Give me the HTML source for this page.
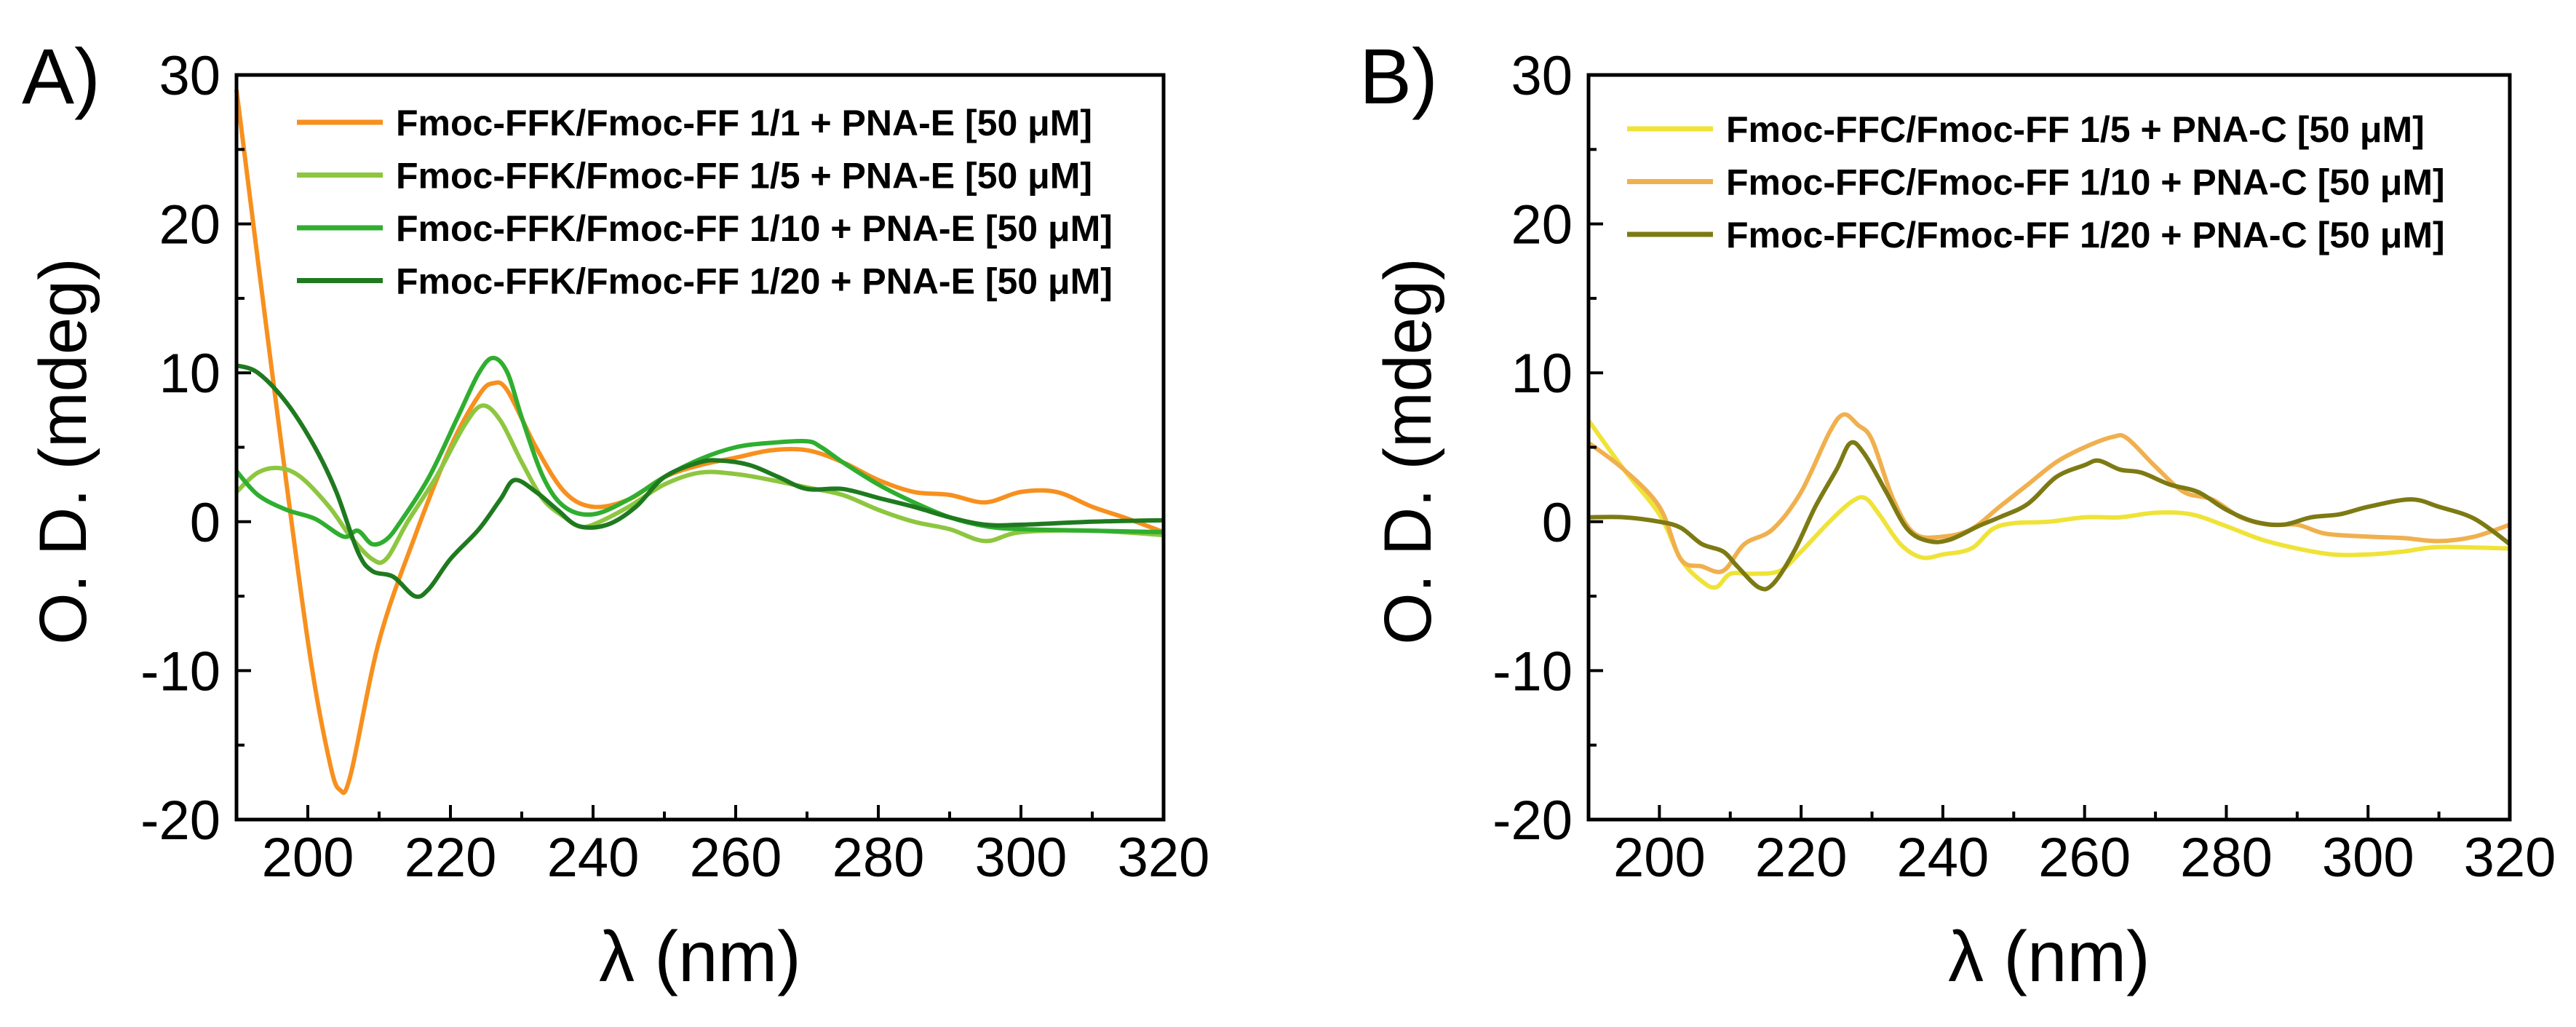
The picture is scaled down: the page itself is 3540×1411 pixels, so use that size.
<!DOCTYPE html>
<html><head><meta charset="utf-8"><style>
html,body{margin:0;padding:0;background:#fff;}
svg{display:block;font-family:"Liberation Sans",sans-serif;}
</style></head><body>
<svg id="fig" width="3540" height="1411" viewBox="0 0 3540 1411" xmlns="http://www.w3.org/2000/svg">
<rect width="3540" height="1411" fill="#fff"/>
</svg>
<script>
const xTicks=[200,220,240,260,280,300,320];
const yTicks=[-20,-10,0,10,20,30];
const aNames=["Fmoc-FFK/Fmoc-FF 1/1 + PNA-E [50 μM]","Fmoc-FFK/Fmoc-FF 1/5 + PNA-E [50 μM]","Fmoc-FFK/Fmoc-FF 1/10 + PNA-E [50 μM]","Fmoc-FFK/Fmoc-FF 1/20 + PNA-E [50 μM]"];
const bNames=["Fmoc-FFC/Fmoc-FF 1/5 + PNA-C [50 μM]","Fmoc-FFC/Fmoc-FF 1/10 + PNA-C [50 μM]","Fmoc-FFC/Fmoc-FF 1/20 + PNA-C [50 μM]"];
const a11X=[190,195,200,203,204.5,206,210,215,220,224,226,228,232,236,240,245,250,255,260,265,270,275,280,285,290,295,300,305,310,315,320];
const a11Y=[29,10,-8,-16,-18,-17,-8,-1,5,8.5,9.3,8.8,5,2,1,1.5,3,3.8,4.3,4.8,4.8,4,2.8,2,1.8,1.3,2,2,1,0.2,-0.7];
const a15X=[190,193,196,199,203,206,209,211,214,218,222,224.5,227,230,233,236,238,240,245,250,255,260,265,270,275,280,285,290,295,300,310,320];
const a15Y=[2,3.3,3.6,3,1,-1,-2.5,-2.5,0,3,6.5,7.8,6.8,4,1.5,0.3,-0.3,-0.2,1,2.5,3.3,3.2,2.8,2.3,1.8,0.8,0,-0.5,-1.3,-0.7,-0.6,-0.9];
const a110X=[190,193,197,201,205,207,209,211,213,217,221,224,226,228,230,233,236,240,245,250,255,260,265,270,272,275,280,285,290,295,300,310,320];
const a110Y=[3.4,1.8,0.8,0.2,-1,-0.6,-1.5,-1.2,0,3,7,10,11,10,7,3,1,0.5,1.5,3,4.2,5,5.3,5.4,5,4,2.5,1.3,0.3,-0.3,-0.5,-0.6,-0.7];
const a120X=[190,193,197,201,204,207,209,212,215,217,220,224,227,229,232,235,238,242,246,250,255,258,262,266,270,275,280,285,290,295,300,310,320];
const a120Y=[10.5,10,8,5,2,-2,-3.3,-3.7,-5,-4.5,-2.5,-0.5,1.5,2.8,2,0.8,-0.3,-0.2,1,3,4,4.1,3.8,3,2.2,2.2,1.6,1,0.3,-0.2,-0.2,0,0.1];
const b15X=[190,195,200,203,206,208,210,213,217,220,224,227,229,231,234,237,240,244,247,250,255,260,265,270,275,280,285,290,295,300,305,310,320];
const b15Y=[6.8,3.5,0.5,-2.5,-4,-4.4,-3.5,-3.5,-3.3,-2,0,1.3,1.6,0.5,-1.5,-2.4,-2.2,-1.8,-0.5,-0.1,0,0.3,0.3,0.6,0.5,-0.3,-1.2,-1.8,-2.2,-2.2,-2,-1.7,-1.8];
const b110X=[190,195,200,203,206,209,212,216,220,224,226,228,230,233,236,240,244,248,252,256,260,264,266,270,274,278,282,286,290,294,300,305,310,315,320];
const b110Y=[5.3,3.5,1,-2.5,-3,-3.3,-1.5,-0.5,2,6,7.2,6.5,5.5,1.5,-0.8,-1,-0.5,1,2.5,4,5,5.7,5.6,3.7,2,1.5,0.3,-0.2,-0.2,-0.8,-1,-1.1,-1.3,-1,-0.2];
const b120X=[190,195,200,203,206,209,211,214,216,219,222,225,227,229,232,235,238,241,245,248,252,256,260,262,265,268,272,276,280,284,288,292,296,300,306,310,315,320];
const b120Y=[0.3,0.3,0,-0.4,-1.5,-2,-3,-4.4,-4.2,-2,1,3.5,5.3,4.5,2,-0.5,-1.3,-1.2,-0.3,0.3,1.2,3,3.8,4.1,3.5,3.3,2.5,2,0.8,0,-0.2,0.3,0.5,1,1.5,1,0.2,-1.5];

const NS="http://www.w3.org/2000/svg";
const svg=document.getElementById('fig');
function mk(tag,attrs,parent){const e=document.createElementNS(NS,tag);for(const k in attrs)e.setAttribute(k,attrs[k]);(parent||svg).appendChild(e);return e;}
function smooth(pts){
  let d='M'+pts[0][0].toFixed(1)+','+pts[0][1].toFixed(1);
  for(let i=0;i<pts.length-1;i++){
    const p0=pts[Math.max(i-1,0)],p1=pts[i],p2=pts[i+1],p3=pts[Math.min(i+2,pts.length-1)];
    const c1=[p1[0]+(p2[0]-p0[0])/6,p1[1]+(p2[1]-p0[1])/6];
    const c2=[p2[0]-(p3[0]-p1[0])/6,p2[1]-(p3[1]-p1[1])/6];
    d+='C'+c1[0].toFixed(1)+','+c1[1].toFixed(1)+' '+c2[0].toFixed(1)+','+c2[1].toFixed(1)+' '+p2[0].toFixed(1)+','+p2[1].toFixed(1);
  }
  return d;
}
const Y0=103,Y1=1126;
function panel(key,L,R,label,labelX,titleX,series,names,colors,legX,legY0){
  const g=mk('g',{});
  
  
  const sx=v=>L+(v-190)/130*(R-L);
  const sy=v=>Y1-(v+20)/50*(Y1-Y0);
  series.forEach((s,i)=>{
    const pts=s[0].map((x,j)=>[sx(x),sy(s[1][j])]);
    const p=mk('path',{d:smooth(pts),fill:'none',stroke:colors[i],'stroke-width':6,'stroke-linejoin':'round'},g);
    
    
  });
  const fr=mk('rect',{x:L,y:Y0,width:R-L,height:Y1-Y0,fill:'none',stroke:'#000','stroke-width':5},g);
  
  
  for(let v=190;v<=320;v+=10){const major=v%20===0;mk('line',{x1:sx(v),x2:sx(v),y1:Y1,y2:Y1-(major?20:11),stroke:'#000','stroke-width':4},g);}
  for(let v=-20;v<=30;v+=5){const major=v%10===0;mk('line',{x1:L,x2:L+(major?20:11),y1:sy(v),y2:sy(v),stroke:'#000','stroke-width':4},g);}
  xTicks.forEach(v=>{const t=mk('text',{x:sx(v),y:1204,'font-size':76,'text-anchor':'middle'},g);t.textContent=v;
    
    });
  yTicks.forEach(v=>{const t=mk('text',{x:L-22,y:sy(v)+27,'font-size':76,'text-anchor':'end'},g);t.textContent=v;
    
    });
  const xt=mk('text',{x:(L+R)/2,y:1348,'font-size':98,'text-anchor':'middle'},g);xt.textContent='λ (nm)';
  
  
  const yt=mk('text',{x:titleX,y:620,'font-size':92,'text-anchor':'middle',transform:'rotate(-90 '+titleX+' 620)'},g);yt.textContent='O. D. (mdeg)';
  
  
  const pl=mk('text',{x:labelX,y:142,'font-size':108},g);pl.textContent=label;
  
  
  names.forEach((n,i)=>{
    const y=legY0+i*72.5;
    const ln=mk('line',{x1:legX,x2:legX+118,y1:y,y2:y,stroke:colors[i],'stroke-width':7},g);
    
    
    const t=mk('text',{x:legX+136,y:y+18,'font-size':50,'font-weight':'bold'},g);t.textContent=n;
    
    
  });
}
panel('a',325,1599,'A)',30,118,[[a11X,a11Y],[a15X,a15Y],[a110X,a110Y],[a120X,a120Y]],aNames,['#f7901e','#8dc63f','#2fae2f','#1f7a1f'],408,168);
panel('b',2183,3449,'B)',1868,1966,[[b15X,b15Y],[b110X,b110Y],[b120X,b120Y]],bNames,['#efe338','#f0b04e','#7d7a14'],2236,177);
</script>
</body></html>
